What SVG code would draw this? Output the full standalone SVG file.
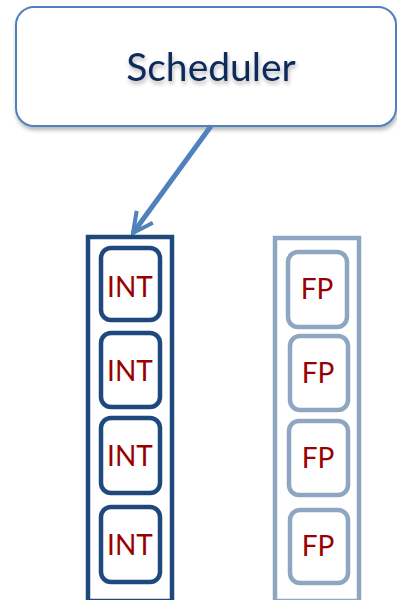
<svg xmlns="http://www.w3.org/2000/svg" width="397" height="600" viewBox="0 0 397 600">
<defs>
<style>
.int-col{fill:none;stroke:#1f497d;stroke-width:4.5}
.int-box{fill:#fff;stroke:#1f497d;stroke-width:4.5}
.fp-col{fill:none;stroke:#8fa6c2;stroke-width:4.5}
.fp-box{fill:#fff;stroke:#8fa6c2;stroke-width:4.5}
.lbl{font-family:Lato,"Liberation Sans",sans-serif;font-size:28px;fill:#990000;text-anchor:middle}
.title{font-family:Lato,"Liberation Sans",sans-serif;font-size:39px;fill:#10295a;text-anchor:middle}
</style>
<filter id="sh" x="-10%" y="-10%" width="130%" height="140%">
<feGaussianBlur in="SourceAlpha" stdDeviation="2"/>
<feOffset dx="1" dy="3"/>
<feComponentTransfer><feFuncA type="linear" slope="0.3"/></feComponentTransfer>
<feMerge><feMergeNode/><feMergeNode in="SourceGraphic"/></feMerge>
</filter>
<marker id="arr" viewBox="0 0 10 10" refX="9" refY="5" markerWidth="5" markerHeight="5" markerUnits="strokeWidth" orient="auto">
<path d="M1,1 L9,5 L1,9" fill="none" stroke="#4f81bd" stroke-width="1.6"/>
</marker>
</defs>
<g id="scheduler">
<rect x="16" y="7" width="380" height="119" rx="18" fill="#fff" stroke="#4f81bd" stroke-width="2" filter="url(#sh)"/>
<text class="title" x="211" y="81" filter="url(#sh)">Scheduler</text>
</g>
<g id="connectors">
<line x1="211" y1="126" x2="133" y2="233" stroke="#4f81bd" stroke-width="5" marker-end="url(#arr)"/>
</g>
<g id="int-column">
<rect class="int-col" x="88" y="237" width="84" height="364"/>
</g>
<g id="int1"><rect class="int-box" x="101" y="248" width="59" height="72" rx="10"/><text class="lbl" x="130" y="297">INT</text></g>
<g id="int2"><rect class="int-box" x="101" y="333" width="59" height="74" rx="10"/><text class="lbl" x="130" y="381">INT</text></g>
<g id="int3"><rect class="int-box" x="101" y="418" width="59" height="75" rx="10"/><text class="lbl" x="130" y="466">INT</text></g>
<g id="int4"><rect class="int-box" x="101" y="507" width="59" height="75" rx="10"/><text class="lbl" x="130" y="555">INT</text></g>
<g id="fp-column">
<rect class="fp-col" x="275" y="238" width="84" height="363"/>
</g>
<g id="fp1"><rect class="fp-box" x="288" y="252" width="59" height="75" rx="10"/><text class="lbl" x="317" y="299">FP</text></g>
<g id="fp2"><rect class="fp-box" x="290" y="336" width="58" height="74" rx="10"/><text class="lbl" x="318" y="383">FP</text></g>
<g id="fp3"><rect class="fp-box" x="289" y="421" width="59" height="74" rx="10"/><text class="lbl" x="318" y="468">FP</text></g>
<g id="fp4"><rect class="fp-box" x="290" y="510" width="58" height="73" rx="10"/><text class="lbl" x="318" y="556">FP</text></g>
</svg>
